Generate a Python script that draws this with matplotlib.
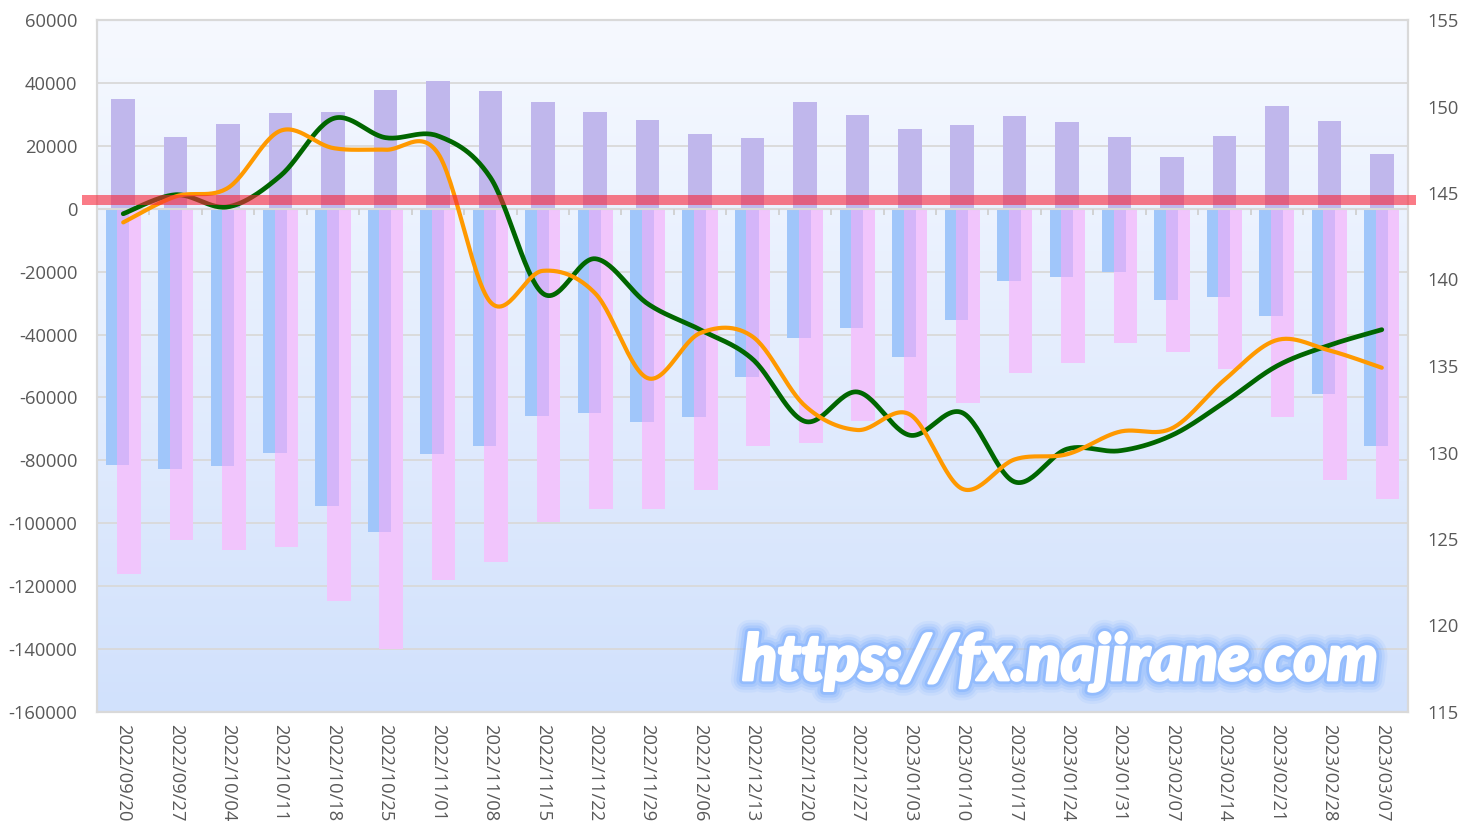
import numpy as np
import matplotlib.pyplot as plt
import matplotlib.patheffects as pe
from matplotlib.markers import TICKDOWN

dates = ['2022/09/20', '2022/09/27', '2022/10/04', '2022/10/11', '2022/10/18',
         '2022/10/25', '2022/11/01', '2022/11/08', '2022/11/15', '2022/11/22',
         '2022/11/29', '2022/12/06', '2022/12/13', '2022/12/20', '2022/12/27',
         '2023/01/03', '2023/01/10', '2023/01/17', '2023/01/24', '2023/01/31',
         '2023/02/07', '2023/02/14', '2023/02/21', '2023/02/28', '2023/03/07']

net_pos = [34900, 22800, 26900, 30400, 30700, 37600, 40600, 37300, 33900, 30800,
           28200, 23700, 22500, 33900, 29800, 25300, 26600, 29500, 27600, 22800,
           16400, 23100, 32600, 27900, 17400]
blue_neg = [-81400, -82700, -81700, -77600, -94400, -102700, -77900, -75400, -65800, -64900,
            -67700, -66100, -53400, -41000, -37800, -47100, -35300, -22900, -21600, -20000,
            -28900, -28000, -34000, -58800, -75400]
pink_neg = [-116100, -105200, -108500, -107500, -124800, -140100, -118000, -112200, -99500, -95500,
            -95500, -89500, -75400, -74600, -67400, -70900, -61700, -52300, -49100, -42600,
            -45600, -50900, -66300, -86300, -92400]

green_rate = [143.8, 144.9, 144.2, 146.0, 149.3, 148.2, 148.3, 145.9, 139.2, 141.2,
              138.6, 137.1, 135.4, 131.8, 133.5, 131.0, 132.3, 128.3, 130.2, 130.1,
              131.0, 132.9, 135.0, 136.2, 137.1]
orange_rate = [143.3, 144.8, 145.3, 148.6, 147.6, 147.5, 147.3, 138.7, 140.5, 139.2,
               134.3, 136.9, 136.7, 132.7, 131.3, 132.2, 127.9, 129.6, 129.9, 131.2,
               131.4, 134.2, 136.5, 135.9, 134.9]
threshold = 144.6

left_ticks = list(range(-160000, 60001, 20000))
right_ticks = list(range(115, 156, 5))
watermark = 'https://fx.najirane.com'


def smooth(xs, ys, n=30):
    # Excel-style smoothed line (cubic bezier, 1/6 neighbour tangents)
    p = np.column_stack([xs, ys]).astype(float)
    p = np.vstack([p[0], p, p[-1]])
    out = []
    t = np.linspace(0, 1, n)[:, None]
    for i in range(1, len(p) - 2):
        p0, p3 = p[i], p[i + 1]
        c1 = p0 + (p[i + 1] - p[i - 1]) / 6
        c2 = p3 - (p[i + 2] - p[i]) / 6
        seg = ((1 - t) ** 3) * p0 + 3 * ((1 - t) ** 2) * t * c1 + 3 * (1 - t) * t ** 2 * c2 + t ** 3 * p3
        out.append(seg if i == 1 else seg[1:])
    out = np.vstack(out)
    return out[:, 0], out[:, 1]


font = ['Open Sans', 'DejaVu Sans']
grey = '#595959'

fig = plt.figure(figsize=(14.6, 8.25), dpi=100)
ax = fig.add_axes([97 / 1460, 1 - 712 / 825, (1408 - 97) / 1460, (712 - 20) / 825])
ax2 = ax.twinx()

x = np.arange(len(dates))
ax.set_xlim(-0.5, len(dates) - 0.5)
ax.set_ylim(-160000, 60000)

# background gradient of the plot area
grad = np.linspace(0, 1, 256)[:, None]
top = np.array([246, 249, 255]) / 255
bot = np.array([209, 225, 252]) / 255
img = top + (bot - top) * grad[:, :, None]
ax.imshow(img, extent=[-0.5, len(dates) - 0.5, -160000, 60000], aspect='auto', zorder=0)

ax.set_yticks(left_ticks)
ax.set_yticklabels([str(v) for v in left_ticks], family=font, fontsize=13.2, color=grey)
ax.yaxis.grid(True, color='#d9d9d9', lw=1.3)
ax.set_axisbelow(True)

w = 0.45
off = 0.11
ax.bar(x, net_pos, width=w, color='#c0b7ec', zorder=2)
ax.bar(x - off, blue_neg, width=w, color='#a0c6fa', zorder=2)
ax.bar(x + off, pink_neg, width=w, color='#f1c5fc', zorder=2.1)
ov = np.maximum(blue_neg, pink_neg)
ax.bar(x, ov, width=2 * (w / 2 - off), color='#d4b5f9', zorder=2.2)

ax.axhline(0, color='#d9d9d9', lw=1.5, zorder=2.5)
ax.plot(np.arange(len(dates) - 1) + 0.5, np.zeros(len(dates) - 1), linestyle='none',
        marker=TICKDOWN, markersize=4, markeredgewidth=1.3, color='#d0d0d0', zorder=2.5)

ax.set_xticks(x)
ax.set_xticklabels(dates, rotation=-90, family=font, fontsize=13.2, color=grey, va='top', ha='center')
ax.tick_params(axis='x', length=0, pad=9)
ax.tick_params(axis='y', length=0, pad=14)

ax2.set_ylim(115, 155)
ax2.set_yticks(right_ticks)
ax2.set_yticklabels([str(v) for v in right_ticks], family=font, fontsize=13.2, color=grey)
ax2.tick_params(axis='y', length=0, pad=14)

for a in (ax, ax2):
    for s in a.spines.values():
        s.set_color('#d9d9d9')
        s.set_linewidth(1.5)

gx, gy = smooth(x, green_rate)
ox, oy = smooth(x, orange_rate)
ax2.plot(gx, gy, color='#006600', lw=3.4, solid_capstyle='round', zorder=3)
ax2.plot(ox, oy, color='#ff9900', lw=3.0, solid_capstyle='round', zorder=3.1)

ax2.plot([-0.0114, 1.006], [threshold, threshold], transform=ax2.get_yaxis_transform(),
         color='#f82438', alpha=0.6, lw=7.2, solid_capstyle='butt', clip_on=False, zorder=4)

# watermark: heavy italic, white with a soft blue glow
glow = [pe.withStroke(linewidth=lw, foreground='#7fb0ff', alpha=a)
        for lw, a in [(18, 0.12), (14, 0.18), (10, 0.28), (6, 0.5)]]
glow += [pe.withStroke(linewidth=2, foreground='white'), pe.Normal()]
fig.text(1060 / 1460, 1 - 680 / 825, watermark, ha='center', va='baseline',
         family=['Lato', 'DejaVu Sans'], weight='black', style='italic',
         fontsize=46, color='white', path_effects=glow, zorder=10)

fig.savefig('out.png', dpi=100)
